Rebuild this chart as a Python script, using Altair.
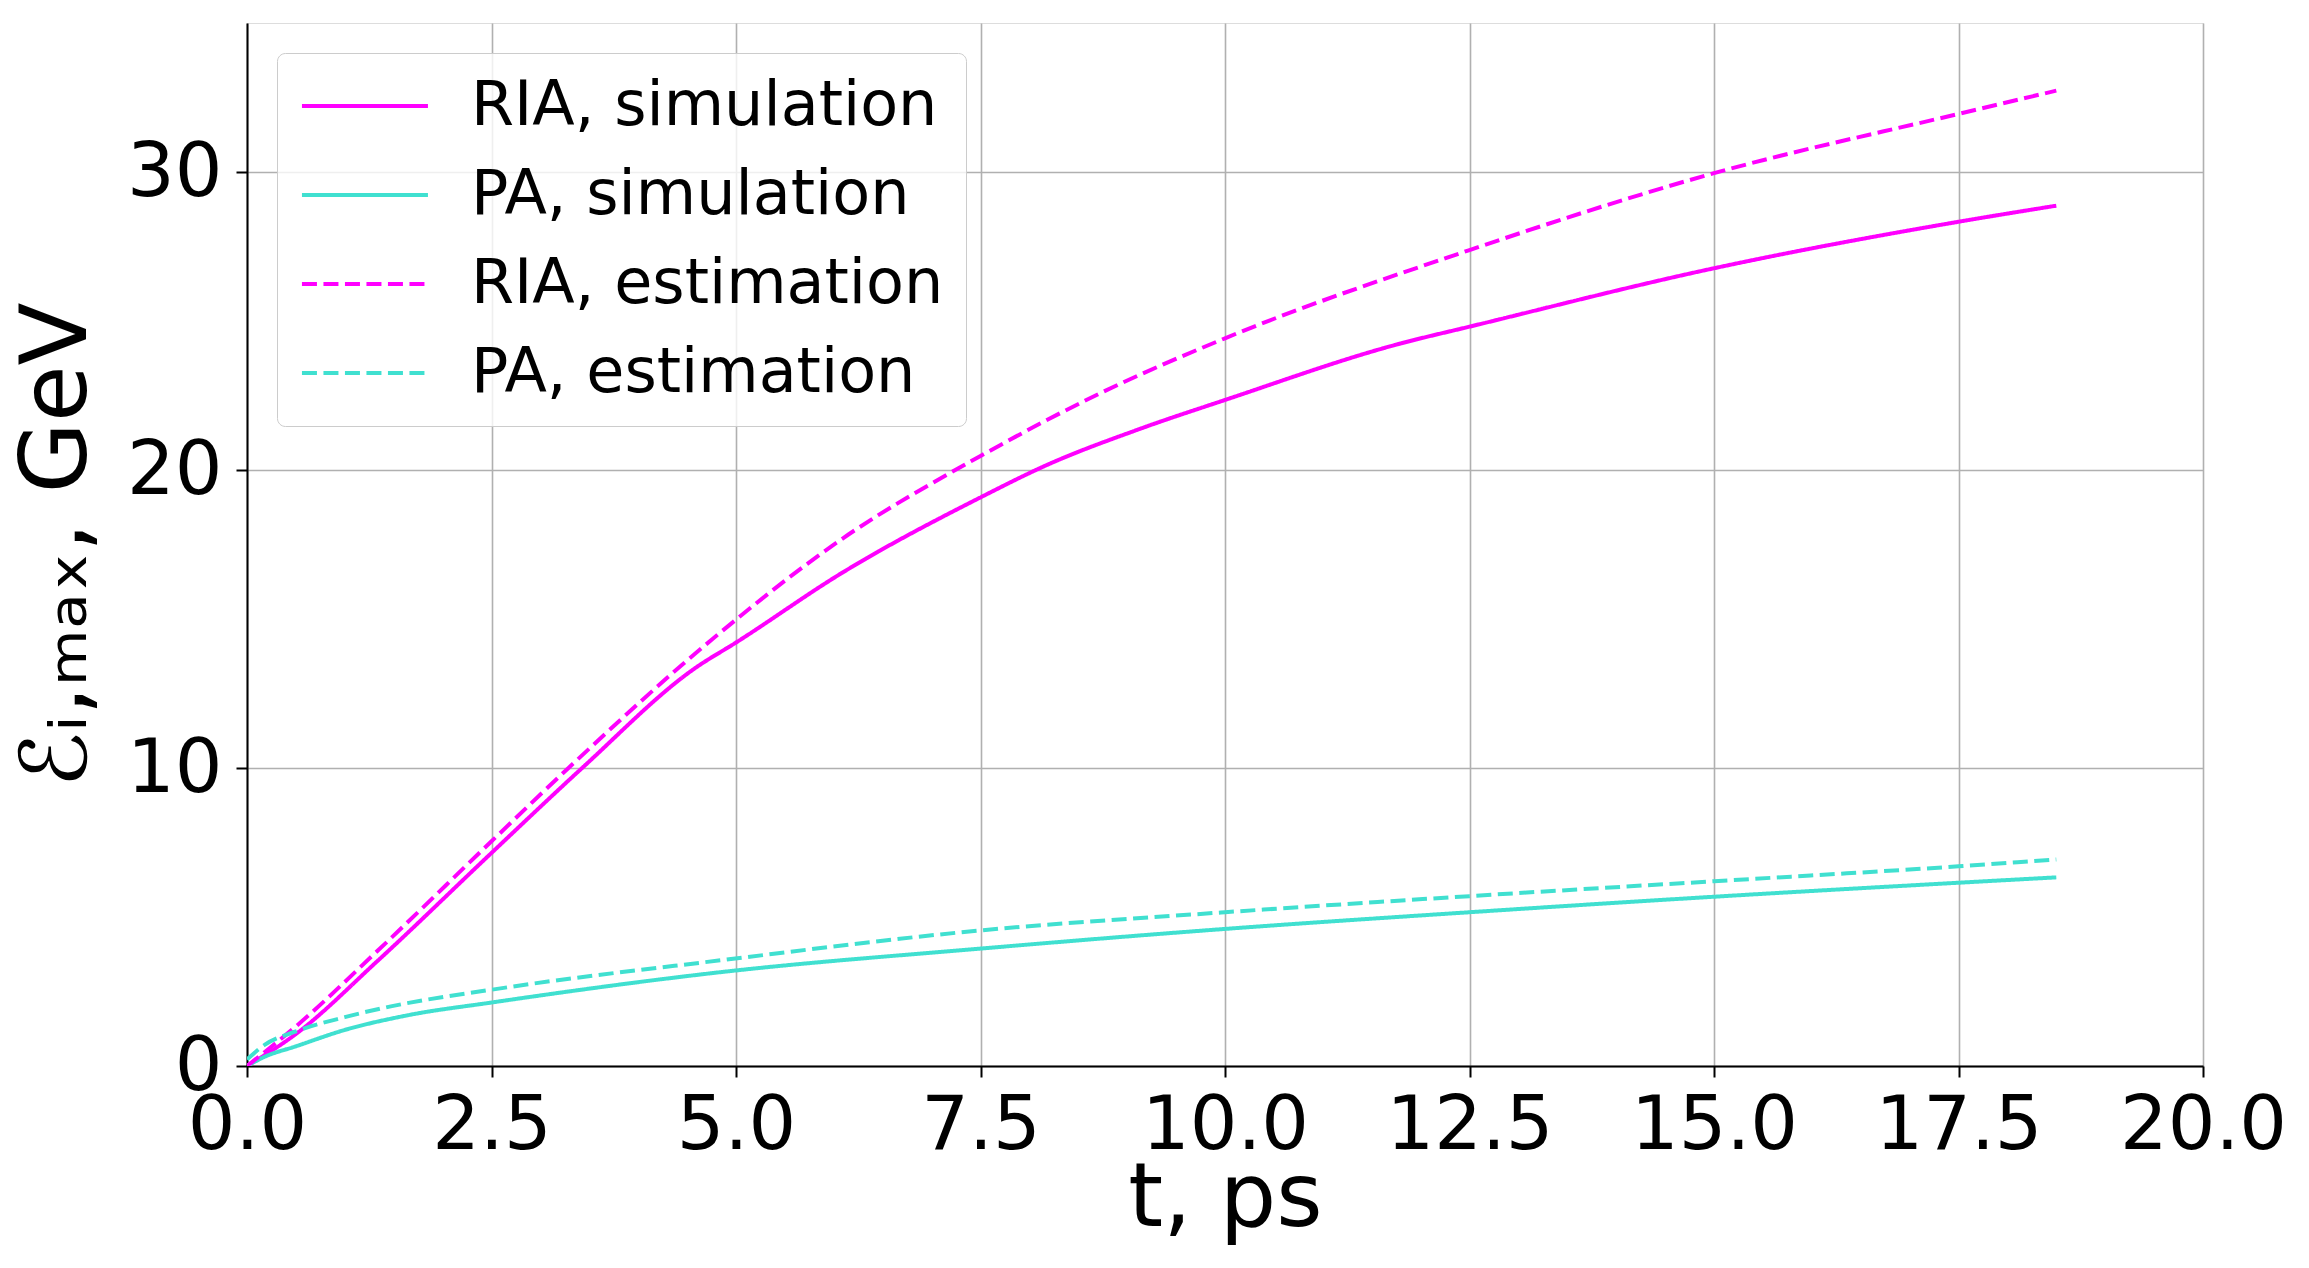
import altair as alt
import pandas as pd

# ---- data ----
series_names = ["RIA, simulation", "PA, simulation", "RIA, estimation", "PA, estimation"]
series_colors = ["#ff00ff", "#40e0d0", "#ff00ff", "#40e0d0"]
series_dashes = [[1, 0], [1, 0], [15, 6.5], [15, 6.5]]

t_ria_sim = [0.0, 0.49, 1.346, 2.5, 3.43, 4.59, 5.0, 6.09, 7.5, 8.18, 9.13, 10.0, 11.8, 12.5, 15.0, 17.5, 18.5]
e_ria_sim = [0.0, 1.05, 3.56, 7.15, 10.01, 13.37, 14.21, 16.56, 19.08, 20.17, 21.38, 22.35, 24.25, 24.81, 26.77, 28.33, 28.87]

t_pa_sim = [0.0, 0.18, 0.49, 1.0, 1.64, 2.5, 4.9, 7.5, 10.0, 12.5, 15.0, 17.5, 18.5]
e_pa_sim = [0.0, 0.31, 0.65, 1.21, 1.70, 2.13, 3.17, 3.94, 4.60, 5.16, 5.68, 6.15, 6.33]

t_ria_est = [0.0, 0.49, 1.346, 2.5, 3.29, 4.76, 6.09, 7.5, 8.72, 10.0, 12.5, 15.0, 17.5, 18.5]
e_ria_est = [0.0, 1.3, 3.9, 7.54, 10.01, 14.33, 17.7, 20.47, 22.57, 24.42, 27.38, 29.96, 31.95, 32.73]

t_pa_est = [0.0, 0.18, 0.49, 1.0, 1.47, 2.5, 4.9, 7.5, 10.0, 12.5, 15.0, 17.5, 18.5]
e_pa_est = [0.22, 0.71, 1.15, 1.64, 2.0, 2.56, 3.57, 4.55, 5.16, 5.70, 6.20, 6.70, 6.93]

x_ticks = [0.0, 2.5, 5.0, 7.5, 10.0, 12.5, 15.0, 17.5, 20.0]
y_ticks = [0, 10, 20, 30]

rows = []
for name, ts, es in [
    (series_names[0], t_ria_sim, e_ria_sim),
    (series_names[1], t_pa_sim, e_pa_sim),
    (series_names[2], t_ria_est, e_ria_est),
    (series_names[3], t_pa_est, e_pa_est),
]:
    for t, e in zip(ts, es):
        rows.append({"series": name, "t": t, "E": e})
df = pd.DataFrame(rows)

FONT = "DejaVu Sans"

legend_kw = dict(
    title=None,
    orient="none",
    legendX=30,
    legendY=30,
    padding=22,
    strokeColor="#cccccc",
    fillColor="rgba(255,255,255,0.8)",
    cornerRadius=8,
    symbolType="M-1.87,0H6.53",
    symbolSize=900,
    symbolStrokeWidth=4,
    labelFont=FONT,
    labelFontSize=62,
    labelColor="black",
    labelOffset=110,
    labelLimit=0,
    rowPadding=27,
)

axis_common = dict(
    labelFont=FONT,
    labelFontSize=75,
    labelColor="black",
    titleFont=FONT,
    titleFontWeight="normal",
    titleColor="black",
    tickSize=11,
    tickWidth=2,
    tickColor="black",
    domainColor="black",
    domainWidth=2,
    grid=True,
    gridColor="#b0b0b0",
    gridWidth=1.6,
    labelOverlap=False,
    labelFlush=False,
    labelBound=False,
)

chart = (
    alt.Chart(df)
    .mark_line(strokeWidth=4, interpolate="monotone", clip=True)
    .encode(
        x=alt.X(
            "t:Q",
            scale=alt.Scale(domain=[0, 20], nice=False),
            axis=alt.Axis(values=x_ticks, format=".1f", title="t, ps",
                          titleFontSize=89, labelPadding=12, titlePadding=-8,
                          **axis_common),
        ),
        y=alt.Y(
            "E:Q",
            scale=alt.Scale(domain=[0, 35], nice=False),
            axis=alt.Axis(values=y_ticks, format="d", title="ℰᵢ,ₘₐₓ, GeV",
                          titleFontSize=92, labelPadding=14, titlePadding=22,
                          **axis_common),
        ),
        color=alt.Color(
            "series:N",
            scale=alt.Scale(domain=series_names, range=series_colors),
            legend=alt.Legend(**legend_kw),
        ),
        strokeDash=alt.StrokeDash(
            "series:N",
            scale=alt.Scale(domain=series_names, range=series_dashes),
            legend=alt.Legend(**legend_kw),
        ),
    )
    .properties(
        width=1956,
        height=1043,
        autosize=alt.AutoSizeParams(type="none"),
        padding={"left": 239, "top": 15, "right": 98, "bottom": 194},
    )
    .configure_view(stroke="black", strokeWidth=2)
    .configure(background="white")
)

chart.save("out.html", embed_options={"renderer": "svg", "actions": False})
